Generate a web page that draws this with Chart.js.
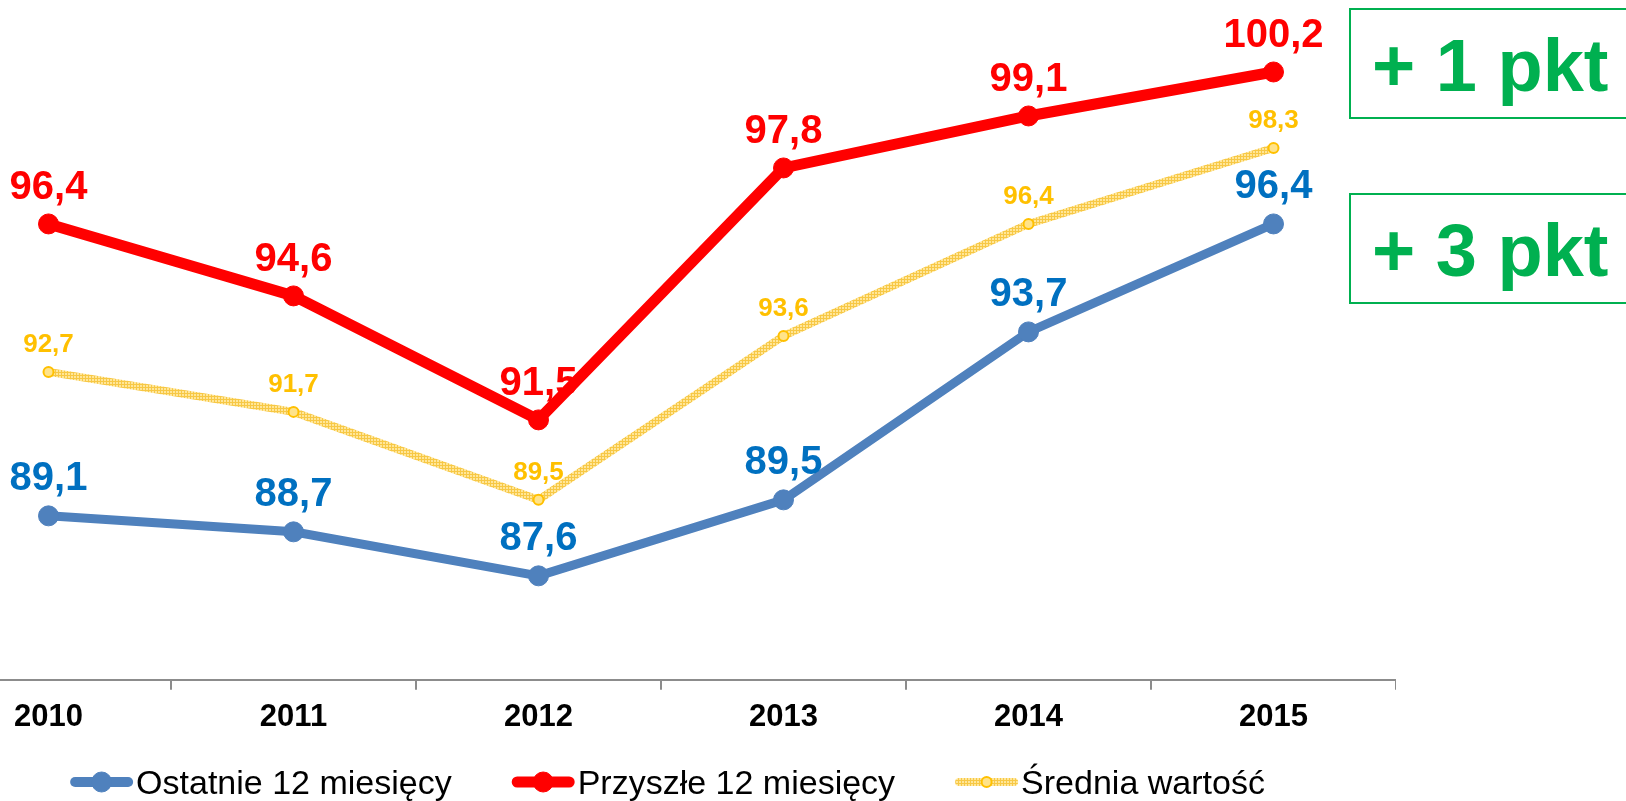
<!DOCTYPE html>
<html>
<head>
<meta charset="utf-8">
<script src="https://cdn.jsdelivr.net/npm/chart.js@4/dist/chart.umd.min.js"></script>
<style>
  html, body { margin: 0; padding: 0; background: #fff; overflow: hidden; }
  body { width: 1626px; height: 801px; position: relative; }
  #wrap { position: absolute; left: -74px; top: 0; width: 1470px; height: 801px; }
  .box { position: absolute; left: 1349px; width: 300px; border: 2px solid #00B050; box-sizing: border-box; }
  .pkt { position: absolute; left: 1372px; font: bold 74px "Liberation Sans", Arial, sans-serif;
         line-height: 74px; color: #00B050; white-space: nowrap; }
</style>
</head>
<body>
<div id="wrap"><canvas id="chart"></canvas></div>
<div class="box" style="top:8px; height:111px;"></div>
<div class="box" style="top:193px; height:111px;"></div>
<div class="pkt" style="top:29px;">+ 1 pkt</div>
<div class="pkt" style="top:214px;">+ 3 pkt</div>
<script>
// dane
const years = ['2010', '2011', '2012', '2013', '2014', '2015'];
const ostatnie = [89.1, 88.7, 87.6, 89.5, 93.7, 96.4];
const przyszle = [96.4, 94.6, 91.5, 97.8, 99.1, 100.2];
const srednia = [92.7, 91.7, 89.5, 93.6, 96.4, 98.3];
const seriesNames = ['Ostatnie 12 miesięcy', 'Przyszłe 12 miesięcy', 'Średnia wartość'];

const FONT = '"Liberation Sans", Arial, sans-serif';
const OFFSET_X = 74; // canvas zaczyna się 74px na lewo od strony

// kreskowany wzór dla żółtej linii
function hatch() {
  const c = document.createElement('canvas');
  c.width = 3; c.height = 3;
  const g = c.getContext('2d');
  g.fillStyle = '#FFE699';
  g.fillRect(0, 0, 3, 3);
  g.fillStyle = '#F7C845';
  g.fillRect(0, 0, 3, 1);
  g.fillRect(0, 0, 1, 3);
  return g.createPattern(c, 'repeat');
}
const yellowPattern = hatch();

const fmt = v => v.toFixed(1).replace('.', ',');

// etykiety wartości nad punktami
const valueLabels = {
  id: 'valueLabels',
  afterDatasetsDraw(chart) {
    const ctx = chart.ctx;
    ctx.save();
    ctx.textAlign = 'center';
    ctx.textBaseline = 'alphabetic';
    chart.data.datasets.forEach((ds, i) => {
      const meta = chart.getDatasetMeta(i);
      ctx.fillStyle = ds.labelColor;
      ctx.font = ds.labelFont;
      meta.data.forEach((pt, j) => {
        ctx.fillText(fmt(ds.data[j]), pt.x, pt.y - ds.labelOffset);
      });
    });
    ctx.restore();
  }
};

// legenda rysowana ręcznie (linia + znacznik + tekst)
const bottomLegend = {
  id: 'bottomLegend',
  afterDraw(chart) {
    const ctx = chart.ctx;
    const sample = 63, gapText = 3, gapItem = 60;
    const y = 782, textY = 794;
    ctx.save();
    ctx.font = '34px ' + FONT;
    const widths = chart.data.datasets.map(ds => sample + gapText + ctx.measureText(ds.label).width);
    const total = widths.reduce((a, b) => a + b, 0) + gapItem * (widths.length - 1);
    let x = 667.5 + OFFSET_X - total / 2;
    chart.data.datasets.forEach((ds, i) => {
      const lw = ds.legendLineWidth;
      ctx.lineCap = 'round';
      ctx.lineWidth = lw;
      ctx.strokeStyle = ds.borderColor;
      ctx.beginPath();
      ctx.moveTo(x + lw / 2, y);
      ctx.lineTo(x + sample - lw / 2, y);
      ctx.stroke();

      ctx.beginPath();
      ctx.arc(x + sample / 2, y, ds.pointRadius, 0, Math.PI * 2);
      ctx.fillStyle = ds.pointBackgroundColor;
      ctx.fill();
      ctx.lineWidth = ds.pointBorderWidth;
      ctx.strokeStyle = ds.pointBorderColor;
      ctx.stroke();

      ctx.fillStyle = '#000';
      ctx.textAlign = 'left';
      ctx.textBaseline = 'alphabetic';
      ctx.fillText(ds.label, x + sample + gapText, textY);
      x += widths[i] + gapItem;
    });
    ctx.restore();
  }
};

new Chart(document.getElementById('chart'), {
  type: 'line',
  data: {
    labels: years,
    datasets: [
      {
        label: seriesNames[0],
        data: ostatnie,
        borderColor: '#4F81BD',
        borderWidth: 9,
        pointRadius: 10,
        pointBackgroundColor: '#4F81BD',
        pointBorderColor: '#4F81BD',
        pointBorderWidth: 1,
        labelColor: '#0070C0',
        labelFont: 'bold 40px ' + FONT,
        labelOffset: 26,
        legendLineWidth: 10
      },
      {
        label: seriesNames[1],
        data: przyszle,
        borderColor: '#FF0000',
        borderWidth: 11,
        pointRadius: 10,
        pointBackgroundColor: '#FF0000',
        pointBorderColor: '#FF0000',
        pointBorderWidth: 1,
        labelColor: '#FF0000',
        labelFont: 'bold 40px ' + FONT,
        labelOffset: 25,
        legendLineWidth: 11
      },
      {
        label: seriesNames[2],
        data: srednia,
        borderColor: yellowPattern,
        borderWidth: 8,
        pointRadius: 5,
        pointBackgroundColor: '#FFE38A',
        pointBorderColor: '#FFC000',
        pointBorderWidth: 2,
        labelColor: '#FFC000',
        labelFont: 'bold 26px ' + FONT,
        labelOffset: 20,
        legendLineWidth: 8
      }
    ]
  },
  options: {
    responsive: true,
    maintainAspectRatio: false,
    animation: false,
    events: [],
    layout: { autoPadding: false, padding: { top: 0, left: 0, right: 0, bottom: 56 } },
    elements: { line: { tension: 0, fill: false } },
    plugins: {
      legend: { display: false },
      tooltip: { enabled: false }
    },
    scales: {
      x: {
        offset: true,
        grid: {
          offset: true,
          drawOnChartArea: false,
          tickLength: 10,
          color: '#8C8C8C',
          lineWidth: 2
        },
        border: { display: true, color: '#8C8C8C', width: 2 },
        ticks: {
          color: '#000',
          font: { family: FONT, size: 31, weight: 'bold' },
          padding: 9,
          maxRotation: 0,
          autoSkip: false
        }
      },
      y: {
        display: false,
        min: 85,
        max: 102
      }
    }
  },
  plugins: [valueLabels, bottomLegend]
});
</script>
</body>
</html>
